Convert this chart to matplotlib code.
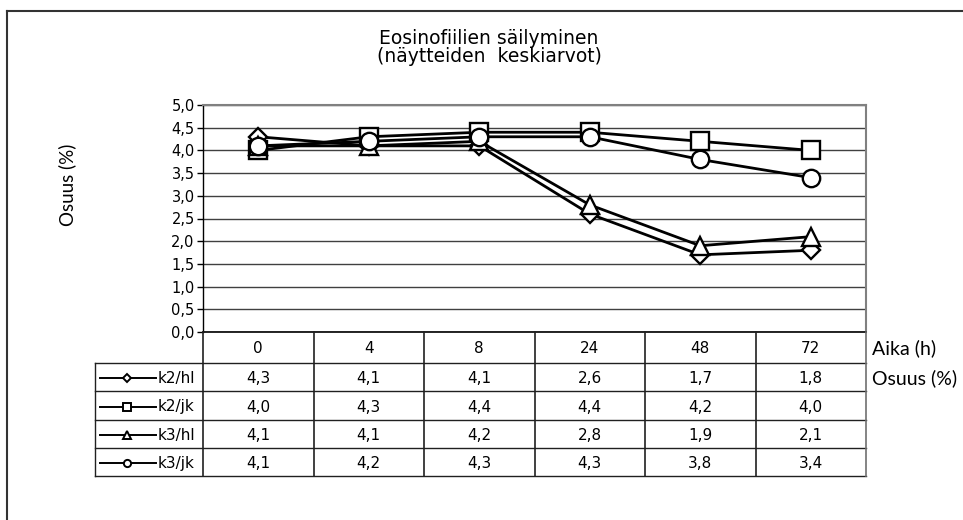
import matplotlib
matplotlib.use('Agg')
import matplotlib.pyplot as plt
from matplotlib.lines import Line2D

# data
times = ['0', '4', '8', '24', '48', '72']
series_names = ['k2/hl', 'k2/jk', 'k3/hl', 'k3/jk']
k2_hl = [4.3, 4.1, 4.1, 2.6, 1.7, 1.8]
k2_jk = [4.0, 4.3, 4.4, 4.4, 4.2, 4.0]
k3_hl = [4.1, 4.1, 4.2, 2.8, 1.9, 2.1]
k3_jk = [4.1, 4.2, 4.3, 4.3, 3.8, 3.4]
markers = ['D', 's', '^', 'o']
y_ticks = [0.0, 0.5, 1.0, 1.5, 2.0, 2.5, 3.0, 3.5, 4.0, 4.5, 5.0]

series = [k2_hl, k2_jk, k3_hl, k3_jk]

W, H = 963, 520
num_font = 'DejaVu Sans'
label_font = 'Lato'


def fx(px):
    return px / W


def fy(py):
    return 1 - py / H


def comma(v):
    return f'{v:.1f}'.replace('.', ',')


fig = plt.figure(figsize=(W / 100, H / 100), dpi=100)

# plot area in pixels
pl, pr, pt, pb = 203, 866, 105, 332
ax = fig.add_axes([fx(pl), fy(pb), (pr - pl) / W, (pb - pt) / H])
xs = list(range(len(times)))
for vals, m in zip(series, markers):
    ms = 9.5 if m == 'D' else 12.5
    ax.plot(xs, vals, color='black', lw=2, marker=m, markersize=ms,
            markerfacecolor='white', markeredgecolor='black', markeredgewidth=1.7,
            clip_on=False, zorder=3)

ax.set_xlim(-0.5, len(times) - 0.5)
ax.set_ylim(0, 5)
ax.set_xticks([])
ax.set_yticks(y_ticks)
ax.set_yticklabels([comma(v) for v in y_ticks], fontfamily=num_font, fontsize=10.5)
ax.tick_params(axis='y', length=4, width=1, pad=2, direction='out')
ax.grid(axis='y', color='#404040', lw=1)
ax.set_axisbelow(True)
for s in ['top', 'right']:
    ax.spines[s].set_color('#808080')
    ax.spines[s].set_linewidth(1.5)
ax.spines['left'].set_color('black')
ax.spines['bottom'].set_color('black')
ax.spines['left'].set_linewidth(1)
ax.spines['bottom'].set_linewidth(1.2)

# data table below the plot
col_w = (pr - pl) / len(times)
tl = 95
x_left = -0.5 - (pl - tl) / col_w
row_edges = [332, 362.7, 391, 420, 448.3, 476]
tax = fig.add_axes([fx(tl), fy(row_edges[-1]), (pr - tl) / W, (row_edges[-1] - row_edges[0]) / H])
tax.set_xlim(x_left, len(times) - 0.5)
tax.set_ylim(row_edges[-1], row_edges[0])
tax.axis('off')

lc = '#202020'
for y in row_edges[1:]:
    tax.plot([x_left, len(times) - 0.5], [y, y], color=lc, lw=1, clip_on=False)
for i in range(len(times) + 1):
    c = '#707070' if i == len(times) else lc
    tax.plot([i - 0.5, i - 0.5], [row_edges[0], row_edges[-1]], color=c, lw=1.2, clip_on=False)
tax.plot([x_left, x_left], [row_edges[1], row_edges[-1]], color=lc, lw=1, clip_on=False)

hy = (row_edges[0] + row_edges[1]) / 2
for i, t in enumerate(times):
    tax.text(i, hy, t, ha='center', va='center_baseline', fontfamily=num_font, fontsize=11)


def px_col(px):
    return x_left + (px - tl) / col_w


for r, (name, vals, m) in enumerate(zip(series_names, series, markers)):
    cy = (row_edges[r + 1] + row_edges[r + 2]) / 2
    for i, v in enumerate(vals):
        tax.text(i, cy, comma(v), ha='center', va='center_baseline',
                 fontfamily=num_font, fontsize=11)
    tax.plot([px_col(100), px_col(156)], [cy + 1, cy + 1], color='black', lw=1.4, clip_on=False)
    ms = 3.8 if m == 'D' else 5.2
    tax.plot([px_col(127)], [cy + 1], marker=m, markersize=ms, markerfacecolor='white',
             markeredgecolor='black', markeredgewidth=1.4, clip_on=False)
    tax.text(px_col(158), cy, name, ha='left', va='center_baseline',
             fontfamily=num_font, fontsize=11)

# titles and axis texts
fig.text(fx(489), fy(36), 'Eosinofiilien säilyminen', ha='center', va='center_baseline',
         fontfamily=num_font, fontsize=13.5)
fig.text(fx(489), fy(54), '(näytteiden  keskiarvot)', ha='center', va='center_baseline',
         fontfamily=num_font, fontsize=13.5)
fig.text(fx(67), fy(185), 'Osuus (%)', rotation=90, ha='center', va='center',
         fontfamily=label_font, fontsize=13.5)
fig.text(fx(872), fy(347), 'Aika (h)', ha='left', va='center_baseline',
         fontfamily=label_font, fontsize=14)
fig.text(fx(872), fy(377), 'Osuus (%)', ha='left', va='center_baseline',
         fontfamily=label_font, fontsize=14)

# outer frame (cut off at right and bottom)
fig.add_artist(Line2D([fx(6.5), fx(6.5)], [fy(11), 0], transform=fig.transFigure,
                      color='#333333', lw=1.5))
fig.add_artist(Line2D([fx(6.5), 1], [fy(11), fy(11)], transform=fig.transFigure,
                      color='#333333', lw=1.5))

fig.savefig('out.png', dpi=100)
